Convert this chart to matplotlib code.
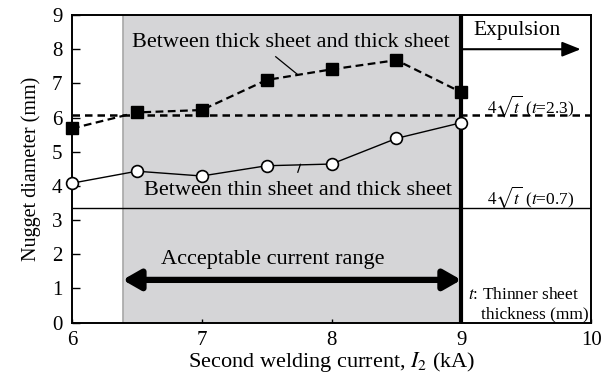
import matplotlib
matplotlib.use("Agg")
import matplotlib.pyplot as plt

plt.rcParams["font.family"] = ["Liberation Serif", "DejaVu Serif"]
plt.rcParams["mathtext.fontset"] = "stix"

current = [6, 6.5, 7, 7.5, 8, 8.5, 9]
thick_thick = [5.68, 6.15, 6.22, 7.1, 7.41, 7.68, 6.74]
thin_thick = [4.08, 4.43, 4.29, 4.59, 4.64, 5.39, 5.85]
limit_23 = 4 * 2.3 ** 0.5
limit_07 = 4 * 0.7 ** 0.5
range_lo, range_hi = 6.39, 9.0

fig = plt.figure(figsize=(6.1, 3.76), dpi=100)
ax = fig.add_axes([0.118, 0.142, 0.851, 0.818])

ax.axvspan(range_lo, range_hi, color="#d5d5d7", zorder=0)
ax.axvline(range_lo, color="#a8a8a8", lw=1.2, zorder=0.5)
ax.axvline(range_hi, color="black", lw=3, zorder=3)

ax.axhline(limit_23, color="black", lw=1.8, ls=(0, (3, 2)), zorder=1)
ax.axhline(limit_07, color="black", lw=1.0, zorder=1)

ax.plot(current, thick_thick, color="black", lw=1.6, ls=(0, (3.5, 2)),
        marker="s", ms=8, mfc="black", mec="black", zorder=4, clip_on=False)
ax.plot(current, thin_thick, color="black", lw=1.0, marker="o", ms=8.5,
        mfc="white", mec="black", mew=1.2, zorder=4, clip_on=False)

ax.text(7.69, 8.2, "Between thick sheet and thick sheet", ha="center", va="center", fontsize=16)
ax.plot([7.735, 7.57], [7.27, 7.78], color="black", lw=0.9)
ax.text(7.74, 3.86, "Between thin sheet and thick sheet", ha="center", va="center", fontsize=16)
ax.plot([7.76, 7.74], [4.63, 4.4], color="black", lw=0.9)

ax.annotate("", xy=(range_lo, 1.25), xytext=(range_hi, 1.25),
            arrowprops=dict(arrowstyle="<|-|>,head_length=0.7,head_width=0.4",
                            mutation_scale=15, color="black", lw=4.5,
                            shrinkA=0, shrinkB=0))
ax.text(7.55, 1.85, "Acceptable current range", ha="center", va="center", fontsize=16)

ax.annotate("", xy=(9.92, 8.0), xytext=(9.0, 8.0),
            arrowprops=dict(arrowstyle="-|>,head_length=0.75,head_width=0.3",
                            mutation_scale=15, color="black", lw=1.5,
                            shrinkA=0, shrinkB=0))
ax.text(9.09, 8.55, "Expulsion", ha="left", va="center", fontsize=15.5)

ax.text(9.87, 6.34, r"$4\sqrt{t}$ ($t$=2.3)", ha="right", va="center", fontsize=12.5)
ax.text(9.87, 3.66, r"$4\sqrt{t}$ ($t$=0.7)", ha="right", va="center", fontsize=12.5)
ax.text(9.05, 0.8, r"$t$: Thinner sheet", ha="left", va="center", fontsize=12.5)
ax.text(9.98, 0.25, "thickness (mm)", ha="right", va="center", fontsize=12.5)

ax.set_xlim(6, 10)
ax.set_ylim(0, 9)
ax.set_xticks([6, 7, 8, 9, 10])
ax.set_yticks(range(0, 10))
ax.tick_params(direction="in", labelsize=15, length=6, width=1)
ax.tick_params(axis="y", pad=7)
ax.tick_params(axis="x", length=3, pad=6)
for s in ax.spines.values():
    s.set_linewidth(1.4)
ax.set_xlabel("Second welding current, $I_2$ (kA)", fontsize=16, labelpad=0)
ax.set_ylabel("Nugget diameter (mm)", fontsize=14.5, labelpad=8)

fig.savefig("out.png", dpi=100)
